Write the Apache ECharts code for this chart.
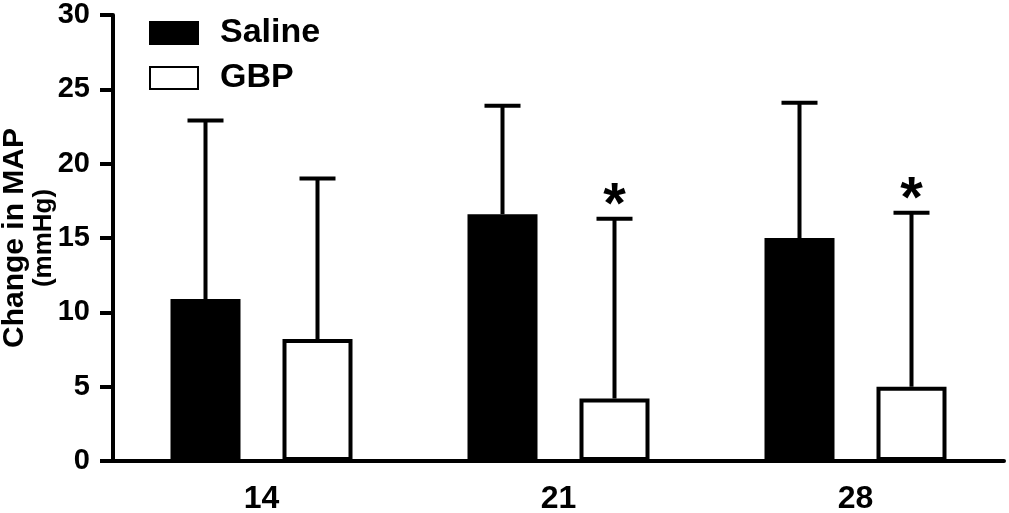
<!DOCTYPE html>
<html lang="en">
<head>
  <meta charset="UTF-8">
  <title>Change in MAP</title>
  <script src="https://cdn.jsdelivr.net/npm/echarts@6/dist/echarts.min.js"></script>
  <style>
    html, body { margin: 0; padding: 0; background: #fff; }
  </style>
</head>
<body>
  <div id="main" style="width: 1009px; height: 513px;"></div>
  <script>
    // data
    var days = ['14', '21', '28'];
    var salineMean = [10.9, 16.6, 15.0];
    var salineSD = [12.0, 7.3, 9.1];
    var gbpMean = [8.2, 4.2, 5.0];
    var gbpSD = [10.8, 12.1, 11.7];
    var gbpStar = [false, true, true];

    var font = 'Liberation Sans, Arial, Helvetica, sans-serif';
    var barW = 70;
    var offset = 56; // half distance between the two bar centres

    // error bar rows: [category, mean, top, side(-1 saline / +1 gbp), star]
    var errRows = [];
    days.forEach(function (d, i) {
      errRows.push([i, salineMean[i], salineMean[i] + salineSD[i], -1, 0]);
      errRows.push([i, gbpMean[i], gbpMean[i] + gbpSD[i], 1, gbpStar[i] ? 1 : 0]);
    });

    function renderErr(params, api) {
      var cat = api.value(0);
      var lo = api.coord([cat, api.value(1)]);
      var hi = api.coord([cat, api.value(2)]);
      var x = lo[0] + api.value(3) * offset;
      var children = [
        { type: 'line', shape: { x1: x, y1: lo[1], x2: x, y2: hi[1] }, style: { stroke: '#000', lineWidth: 4 } },
        { type: 'line', shape: { x1: x - 18, y1: hi[1], x2: x + 18, y2: hi[1] }, style: { stroke: '#000', lineWidth: 4 } }
      ];
      if (api.value(4)) {
        children.push({
          type: 'text',
          style: {
            text: '*', x: x, y: hi[1] - 12,
            align: 'center', verticalAlign: 'middle',
            fontSize: 58, fontWeight: 'bold', fontFamily: font, fill: '#000'
          }
        });
      }
      return { type: 'group', children: children };
    }

    var myChart = echarts.init(document.getElementById('main'));
    var option = {
      animation: false,
      grid: { left: 113, right: 5, top: 15, bottom: 52, outerBoundsMode: 'none' },
      legend: {
        data: ['Saline', 'GBP'],
        orient: 'vertical',
        left: 144,
        top: 11,
        icon: 'rect',
        itemWidth: 48,
        itemHeight: 22,
        itemGap: 11,
        textStyle: {
          fontSize: 34, fontWeight: 'bold', fontFamily: font, color: '#000',
          padding: [0, 0, 0, 17]
        }
      },
      xAxis: {
        type: 'category',
        data: days,
        axisLine: { lineStyle: { color: '#000', width: 4 } },
        axisTick: { show: false },
        axisLabel: { margin: 22, fontSize: 32, fontWeight: 'bold', fontFamily: font, color: '#000' }
      },
      yAxis: {
        type: 'value',
        min: 0, max: 30, interval: 5,
        name: '{a|Change in MAP}\n{b|(mmHg)}',
        nameLocation: 'middle',
        nameRotate: 90,
        nameGap: 55,
        nameMoveOverlap: false,
        nameTextStyle: {
          fontWeight: 'bold', fontFamily: font, color: '#000',
          rich: {
            a: { fontSize: 30, fontWeight: 'bold', fontFamily: font, color: '#000', lineHeight: 30 },
            b: { fontSize: 26, fontWeight: 'bold', fontFamily: font, color: '#000', lineHeight: 28 }
          }
        },
        axisLine: { show: true, lineStyle: { color: '#000', width: 4 } },
        axisTick: { show: true, length: 13, lineStyle: { color: '#000', width: 4 } },
        splitLine: { show: false },
        axisLabel: { margin: 23, fontSize: 29, fontWeight: 'bold', fontFamily: font, color: '#000' }
      },
      series: [
        {
          name: 'Saline', type: 'bar', data: salineMean,
          barWidth: barW, barGap: '60%',
          itemStyle: { color: '#000', borderColor: '#000', borderWidth: 3 }
        },
        {
          name: 'GBP', type: 'bar', data: gbpMean,
          barWidth: barW,
          itemStyle: { color: '#fff', borderColor: '#000', borderWidth: 4 }
        },
        {
          type: 'custom', renderItem: renderErr, data: errRows,
          encode: { x: 0, y: [1, 2] }, z: 5, silent: true
        }
      ]
    };
    myChart.setOption(option);
  </script>
</body>
</html>
